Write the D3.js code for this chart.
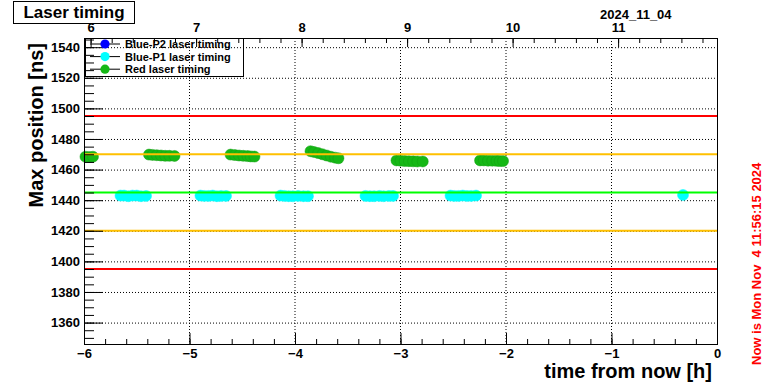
<!DOCTYPE html>
<html>
<head>
<meta charset="utf-8">
<script src="https://cdn.jsdelivr.net/npm/d3@7"></script>
<style>
body { margin: 0; background: #fff; }
text { font-family: "Liberation Sans", Arial, sans-serif; font-weight: bold; }
</style>
</head>
<body>
<div id="canvas"></div>
<script>
var width = 780,
	height = 386;

// now = Mon Nov 4 11:56:15 2024, in hours of day
var nowHour = 11 + 56.25 / 60;
var dateLabel = "2024_11_04";
var nowLabel = "Now is Mon Nov  4 11:56:15 2024";

var legendNames = ["Blue-P2 laser timing", "Blue-P1 laser timing", "Red laser timing"];

// Blue-P2: no points in the window
var p2Time = [];
var p2Value = [];

// Blue-P1 laser timing (hours from now, ns)
var p1Time = [-5.654, -5.62, -5.58, -5.54, -5.50, -5.46, -5.412,
	-4.896, -4.86, -4.82, -4.78, -4.74, -4.70, -4.654,
	-4.137, -4.10, -4.06, -4.02, -3.97, -3.92, -3.877,
	-3.332, -3.29, -3.25, -3.20, -3.16, -3.11, -3.071,
	-2.526, -2.49, -2.45, -2.41, -2.37, -2.33, -2.284,
	-0.322];
var p1Value = [1443, 1443, 1442.6, 1443, 1443, 1442.6, 1442.8,
	1443, 1442.8, 1442.8, 1443, 1442.6, 1442.8, 1442.8,
	1443, 1442.8, 1442.6, 1442.6, 1442.8, 1442.6, 1442.6,
	1442.8, 1442.6, 1442.6, 1442.8, 1442.6, 1442.8, 1442.8,
	1443, 1442.8, 1442.8, 1443, 1442.8, 1442.8, 1443,
	1443.4];

// Red laser timing
var redTime = [-5.986, -5.95, -5.915,
	-5.384, -5.35, -5.31, -5.27, -5.23, -5.19, -5.142,
	-4.611, -4.57, -4.53, -4.49, -4.45, -4.42, -4.384,
	-3.853, -3.82, -3.78, -3.74, -3.70, -3.66, -3.62, -3.588,
	-3.038, -3.00, -2.96, -2.92, -2.88, -2.84, -2.789,
	-2.246, -2.21, -2.17, -2.13, -2.09, -2.06, -2.028];
var redValue = [1468.4, 1468.2, 1468.4,
	1469.8, 1469.6, 1469.4, 1469.2, 1469, 1469, 1468.9,
	1469.8, 1469.5, 1469.2, 1469, 1468.8, 1468.6, 1468.5,
	1472, 1471.5, 1470.8, 1470, 1469.2, 1468.4, 1467.8, 1467.4,
	1466, 1465.8, 1465.6, 1465.5, 1465.4, 1465.3, 1465.3,
	1466, 1466, 1465.8, 1465.8, 1465.7, 1465.6, 1465.6];

// limit lines (ns)
var redLimits = [1395, 1495];
var orangeLimits = [1420, 1470];
var greenLimits = [1445];

var x = d3.scaleLinear().domain([-6, 0]).range([84, 717]);
var y = d3.scaleLinear().domain([1346, 1546]).range([344, 38]);
// top axis: hour of day
var xTop = d3.scaleLinear().domain([-6 + nowHour, nowHour]).range([84, 717]);

var svg = d3.select("#canvas").append("svg")
	.attr("width", width)
	.attr("height", height)
	.style("background-color", "#fff");

// grid
var gridX = [-5, -4, -3, -2, -1];
svg.selectAll(".gx").data(gridX).enter().append("line")
	.attr("x1", function(d){ return x(d); }).attr("x2", function(d){ return x(d); })
	.attr("y1", y.range()[1]).attr("y2", y.range()[0])
	.attr("stroke", "#000").attr("stroke-dasharray", "1,2");
svg.selectAll(".gy").data(d3.range(1360, 1541, 20)).enter().append("line")
	.attr("x1", x.range()[0]).attr("x2", x.range()[1])
	.attr("y1", function(d){ return y(d) + 0.5; }).attr("y2", function(d){ return y(d) + 0.5; })
	.attr("stroke", "#000").attr("stroke-dasharray", "1,2");

// markers
function drawPoints(times, values, fill, stroke){
	svg.append("g").selectAll("circle")
		.data(times.map(function(t, i){ return {t: t, v: values[i]}; }))
		.enter().append("circle")
		.attr("cx", function(d){ return x(d.t); })
		.attr("cy", function(d){ return y(d.v); })
		.attr("r", 5.5)
		.attr("fill", fill)
		.attr("stroke", stroke)
		.attr("stroke-width", 0.5);
}
drawPoints(p2Time, p2Value, "#0000ff", "#0000ff");
drawPoints(p1Time, p1Value, "#00ffff", "#00ffff");
drawPoints(redTime, redValue, "#16b816", "#149f14");

// limit lines
function drawLimits(vals, color){
	svg.append("g").selectAll("line").data(vals).enter().append("line")
		.attr("x1", x.range()[0]).attr("x2", x.range()[1])
		.attr("y1", function(d){ return y(d); }).attr("y2", function(d){ return y(d); })
		.attr("stroke", color).attr("stroke-width", 2);
}
drawLimits(redLimits, "#ff0000");
drawLimits(orangeLimits, "#ffc000");
drawLimits(greenLimits, "#00ff00");

// axes
function styleAxis(g){
	g.select(".domain").remove();
	g.selectAll("text").attr("font-size", 13).attr("fill", "#000")
		.style("font-family", "'Liberation Sans', Arial, sans-serif").style("font-weight", "bold");
	g.selectAll("line").attr("stroke", "#000");
}
var minus = function(d){ return d < 0 ? "\u2212" + (-d) : "" + d; };

svg.append("g").attr("transform", "translate(0," + y.range()[0] + ")")
	.call(d3.axisBottom(x).tickValues(d3.range(-6, 0.01, 0.2)).tickSize(-5).tickFormat(""))
	.call(styleAxis);
svg.append("g").attr("transform", "translate(0," + y.range()[0] + ")")
	.call(d3.axisBottom(x).tickValues(d3.range(-6, 1, 1)).tickSize(-11).tickPadding(5).tickFormat(minus))
	.call(styleAxis);

svg.append("g").attr("transform", "translate(" + x.range()[0] + ",0)")
	.call(d3.axisLeft(y).tickValues(d3.range(1350, 1546, 5)).tickSize(-10).tickFormat(""))
	.call(styleAxis);
svg.append("g").attr("transform", "translate(" + x.range()[0] + ",0)")
	.call(d3.axisLeft(y).tickValues(d3.range(1360, 1541, 20)).tickSize(-19).tickPadding(4).tickFormat(d3.format("d")))
	.call(styleAxis);

var topMinor = d3.range(0, 31).map(function(i){ return 6 + 0.2 * i; })
	.filter(function(d){ return d >= xTop.domain()[0] && d <= xTop.domain()[1]; });
svg.append("g").attr("transform", "translate(0," + y.range()[1] + ")")
	.call(d3.axisTop(xTop).tickValues(topMinor).tickSize(-5).tickFormat(""))
	.call(styleAxis);
svg.append("g").attr("transform", "translate(0," + y.range()[1] + ")")
	.call(d3.axisTop(xTop).tickValues([6, 7, 8, 9, 10, 11]).tickSize(-9).tickPadding(6).tickFormat(d3.format("d")))
	.call(styleAxis);

// frame
svg.append("rect")
	.attr("x", x.range()[0] + 0.5).attr("y", y.range()[1] + 0.5)
	.attr("width", x.range()[1] - x.range()[0]).attr("height", y.range()[0] - y.range()[1])
	.attr("fill", "none").attr("stroke", "#000");

// date on top axis
svg.append("text").attr("x", 600).attr("y", 19).attr("font-size", 13).text(dateLabel);

// axis titles
svg.append("text")
	.attr("transform", "translate(43,43) rotate(-90)")
	.attr("text-anchor", "end").attr("font-size", 20).text("Max position [ns]");
svg.append("text")
	.attr("x", 712).attr("y", 378)
	.attr("text-anchor", "end").attr("font-size", 20).text("time from now [h]");

// now label
svg.append("text")
	.attr("transform", "translate(761,365) rotate(-90)")
	.attr("font-size", 13).attr("fill", "#ff0000")
	.style("white-space", "pre").attr("xml:space", "preserve")
	.text(nowLabel);

// title box
svg.append("rect").attr("x", 13.5).attr("y", 1.5).attr("width", 121).attr("height", 22)
	.attr("fill", "#fff").attr("stroke", "#000");
svg.append("text").attr("x", 74).attr("y", 18).attr("text-anchor", "middle")
	.attr("font-size", 17).text("Laser timing");

// legend
var legendColors = ["#0000ff", "#00ffff", "#16b816"];
var legend = svg.append("g");
legend.append("rect").attr("x", 85.5).attr("y", 38.5).attr("width", 158).attr("height", 38)
	.attr("fill", "none").attr("stroke", "#000");
var rows = legend.selectAll(".row").data(legendNames).enter().append("g")
	.attr("transform", function(d, i){ return "translate(0," + (44 + i * 12.6) + ")"; });
rows.append("line").attr("x1", 90).attr("x2", 120).attr("stroke", "#000");
rows.append("circle").attr("cx", 105).attr("r", 4.6)
	.attr("fill", function(d, i){ return legendColors[i]; });
rows.append("text").attr("x", 125).attr("y", 4).attr("font-size", 11).text(function(d){ return d; });
</script>
</body>
</html>
